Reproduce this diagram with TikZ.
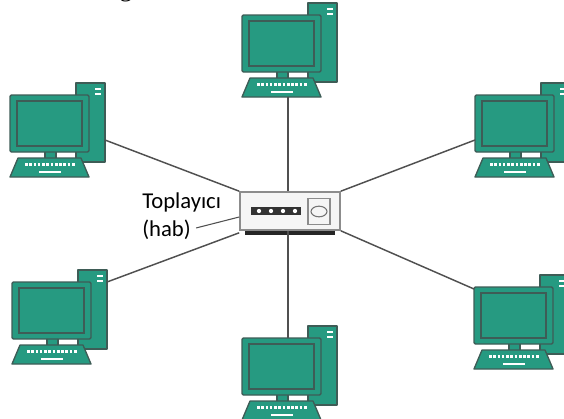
\documentclass[tikz,border=0pt]{standalone}
\usepackage{fontspec}
\usepackage{tikz}
\usetikzlibrary{positioning}
\newfontfamily\labelfont{Carlito}
\newfontfamily\headfont{Liberation Serif}
\definecolor{pcgreen}{RGB}{38,154,129}
\definecolor{pcedge}{RGB}{62,92,86}
\definecolor{wire}{RGB}{80,80,80}

\begin{document}
\begin{tikzpicture}[x=0.75pt, y=-0.75pt,
						part/.style={fill=pcgreen, draw=pcedge, line width=1pt, line join=round},
						hub/.style={rectangle, draw=black!45, fill=black!4, line width=1.2pt, minimum width=75pt, minimum height=28.5pt, inner sep=0pt},
						leds/.style={rectangle, fill=black!80, minimum width=37.5pt, minimum height=6pt, inner sep=0pt},
						portbox/.style={rectangle, draw=black!45, fill=black!4, line width=0.8pt, minimum width=16.5pt, minimum height=20pt, inner sep=0pt},
						label/.style={font=\labelfont\fontsize{17}{20}\selectfont, inner sep=0pt},
						computer/.pic={
							% tower behind the screen
							\draw[part] (66,-12) rectangle (95,67);
							\draw[white, line width=1.5pt] (85,-6) -- (91,-6) (85,-1) -- (91,-1);
							% screen and stand
							\draw[part] (35,55) rectangle (46,64);
							\draw[part, rounded corners=1pt] (0,0) rectangle (79,57);
							\draw[pcedge, line width=0.9pt] (7,6) rectangle (72,51);
							% keyboard
							\draw[part] (8,63) -- (71,63) -- (79,82) -- (0,82) -- cycle;
							\draw[white, line width=2pt, dash pattern=on 2pt off 1.2pt] (15,69.5) -- (65,69.5);
							\draw[white, line width=1.5pt] (29,76.5) -- (51,76.5);
							\coordinate (-top) at (46,0);
							\coordinate (-cable) at (46,82);
							\coordinate (-side) at (95,45);
							\coordinate (-back) at (95,0);
							\coordinate (-left) at (0,45);
							\coordinate (-corner) at (0,2);
						}
					]
					\useasboundingbox (0,0) rectangle (564,418);
					\node[font=\headfont\fontsize{19}{22}\selectfont, anchor=base, inner sep=0pt] (head) at (126,-4) {g};
					% the six computers
					\pic (pcTop) at (242,15) {computer};
					\pic (pcUL) at (10,95) {computer};
					\pic (pcUR) at (475,95) {computer};
					\pic (pcLL) at (12,282) {computer};
					\pic (pcBot) at (242,338) {computer};
					\pic (pcLR) at (474,287) {computer};
					% hub in the middle
					\fill[black!85] (245,229) rectangle (335,235);
					\node[hub] (hub) at (290,211) {};
					\node[leds] (leds) at (276,211) {};
					\foreach \i in {0,...,3}
						\fill[white] (259+12*\i,211) circle (1.6pt);
					\node[portbox] (port) at (319,211.5) {};
					\draw[black!55, line width=0.8pt] (port.center) ellipse (6pt and 4pt);
					\node[label, anchor=base west] (toplayici) at (142,208) {Toplayıcı};
					\node[label, anchor=base west] (hab) at (142,236) {(hab)};
					\begin{scope}[wire, line width=1.1pt]
					\draw (pcTop-cable) -- (hub.north -| pcTop-cable);
					\draw (hub.south -| pcBot-top) -- (pcBot-top);
					\draw (pcUL-side) -- (hub.north west);
					\draw (hub.north east) -- (pcUR-left);
					\draw ([yshift=-1.5pt]hub.south west) -- (pcLL-back);
					\draw (hub.south east) -- (pcLR-corner);
					\draw[line width=0.8pt, shorten <=4pt] (hab.east) -- ([yshift=-4.5pt]hub.west);
					\end{scope}
					\end{tikzpicture}
\end{document}
